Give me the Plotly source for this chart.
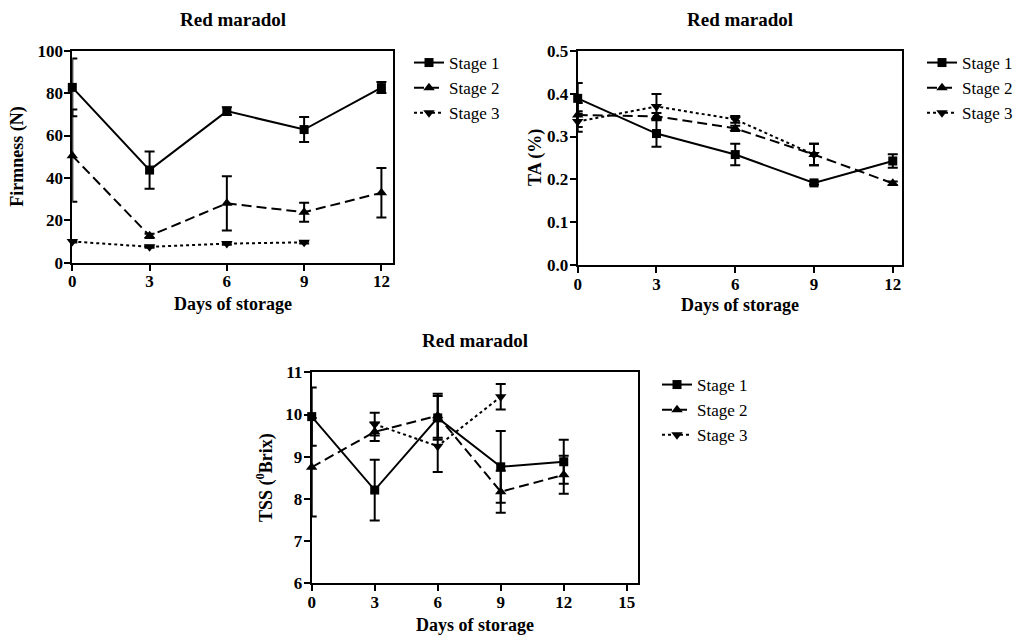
import plotly.graph_objects as go

# ---------------- data ----------------
days = [0, 3, 6, 9, 12]
days_s3 = [0, 3, 6, 9]
days_tss_s3 = [3, 6, 9]

firm_s1 = [82.7, 43.7, 71.5, 62.8, 82.6]
firm_s1_err = [13.6, 8.8, 1.8, 5.9, 2.6]
firm_s2 = [50.5, 12.7, 28.0, 23.8, 33.0]
firm_s2_err = [21.8, 1.0, 12.8, 4.5, 11.7]
firm_s3 = [10.0, 7.5, 9.0, 9.6]
firm_s3_err = [0.5, 0.5, 0.5, 0.5]

ta_s1 = [0.389, 0.307, 0.258, 0.192, 0.243]
ta_s1_err = [0.036, 0.031, 0.025, 0.004, 0.016]
ta_s2 = [0.350, 0.347, 0.319, 0.258, 0.191]
ta_s2_err = [0.028, 0.008, 0.006, 0.025, 0.004]
ta_s3 = [0.335, 0.370, 0.340, 0.258]
ta_s3_err = [0.024, 0.029, 0.008, 0.025]

tss_s1 = [9.95, 8.21, 9.92, 8.76, 8.88]
tss_s1_err = [0.69, 0.72, 0.52, 0.85, 0.52]
tss_s2 = [8.75, 9.59, 9.97, 8.17, 8.57]
tss_s2_err = [1.17, 0.22, 0.52, 0.50, 0.45]
tss_s3 = [9.77, 9.25, 10.42]
tss_s3_err = [0.27, 0.61, 0.30]

stage_names = ["Stage 1", "Stage 2", "Stage 3"]
chart_title = "Red maradol"
x_title = "Days of storage"
y_titles = ["Firmness (N)", "TA (%)", "TSS (<sup>0</sup>Brix)"]

# ---------------- helpers ----------------
W, H = 1024, 636
FONT = "Liberation Serif"


def fx(p):
    return p / W


def fy(p):
    return 1 - p / H


styles = [
    dict(dash="solid", symbol="square", size=9),
    dict(dash="10px,5px", symbol="triangle-up", size=10),
    dict(dash="3px,3px", symbol="triangle-down", size=10),
]

fig = go.Figure()


def add_series(xs, ys, errs, idx, xa, ya, legend):
    st = styles[idx]
    fig.add_trace(go.Scatter(
        x=xs, y=ys, mode="lines+markers", name=stage_names[idx],
        xaxis=xa, yaxis=ya, legend=legend, cliponaxis=False,
        line=dict(color="black", width=2, dash=st["dash"]),
        marker=dict(color="black", symbol=st["symbol"], size=st["size"]),
        error_y=dict(type="data", array=errs, visible=True, color="black",
                     thickness=2, width=5),
    ))


add_series(days, firm_s1, firm_s1_err, 0, "x", "y", "legend")
add_series(days, firm_s2, firm_s2_err, 1, "x", "y", "legend")
add_series(days_s3, firm_s3, firm_s3_err, 2, "x", "y", "legend")

add_series(days, ta_s1, ta_s1_err, 0, "x2", "y2", "legend2")
add_series(days, ta_s2, ta_s2_err, 1, "x2", "y2", "legend2")
add_series(days_s3, ta_s3, ta_s3_err, 2, "x2", "y2", "legend2")

add_series(days, tss_s1, tss_s1_err, 0, "x3", "y3", "legend3")
add_series(days, tss_s2, tss_s2_err, 1, "x3", "y3", "legend3")
add_series(days_tss_s3, tss_s3, tss_s3_err, 2, "x3", "y3", "legend3")

axis_common = dict(
    showgrid=False, zeroline=False, showline=True, linecolor="black",
    linewidth=2, mirror=True, ticks="outside", ticklen=6, tickwidth=2,
    tickcolor="black", automargin=False,
    tickfont=dict(family=FONT, size=17, color="black", weight="bold"),
)
xaxis_common = dict(ticklabelstandoff=-4, **axis_common)
yaxis_common = dict(ticklabelstandoff=-2, **axis_common)

legend_common = dict(
    font=dict(family=FONT, size=17, color="black"),
    bgcolor="rgba(0,0,0,0)", borderwidth=0, xanchor="left", yanchor="top",
    itemclick=False, itemdoubleclick=False,
)

fig.update_layout(
    width=W, height=H,
    margin=dict(l=0, r=0, t=0, b=0, autoexpand=False),
    paper_bgcolor="white", plot_bgcolor="white",
    font=dict(family=FONT, color="black"),
    xaxis=dict(domain=[fx(72.3), fx(393)], range=[0, 12.45],
               tickvals=[0, 3, 6, 9, 12], anchor="y", **xaxis_common),
    yaxis=dict(domain=[fy(262.7), fy(50.7)], range=[0, 100],
               tickvals=[0, 20, 40, 60, 80, 100], anchor="x", **yaxis_common),
    xaxis2=dict(domain=[fx(577.7), fx(901.7)], range=[0, 12.34],
                tickvals=[0, 3, 6, 9, 12], anchor="y2", **xaxis_common),
    yaxis2=dict(domain=[fy(265.3), fy(50.7)], range=[0, 0.5],
                tickvals=[0, 0.1, 0.2, 0.3, 0.4, 0.5], tickformat=".1f",
                anchor="x2", **yaxis_common),
    xaxis3=dict(domain=[fx(311.7), fx(638.3)], range=[0, 15.55],
                tickvals=[0, 3, 6, 9, 12, 15], anchor="y3", **xaxis_common),
    yaxis3=dict(domain=[fy(583.3), fy(372.3)], range=[6, 11],
                tickvals=[6, 7, 8, 9, 10, 11], anchor="x3", **yaxis_common),
    legend=dict(x=fx(409), y=fy(45), **legend_common),
    legend2=dict(x=fx(922), y=fy(45), **legend_common),
    legend3=dict(x=fx(657), y=fy(367), **legend_common),
    showlegend=True,
)

ann = []


def text(x, y, s, size, bold=True, angle=0):
    ann.append(dict(
        x=fx(x), y=fy(y), xref="paper", yref="paper", text=s, showarrow=False,
        textangle=angle, xanchor="center", yanchor="middle",
        font=dict(family=FONT, size=size, color="black",
                  weight="bold" if bold else "normal"),
    ))


text(232.5, 20, chart_title, 19)
text(739.7, 20, chart_title, 19)
text(475, 340, chart_title, 19)

text(232.5, 304, x_title, 18)
text(739.7, 305, x_title, 18)
text(475, 625, x_title, 18)

text(18, 156.7, y_titles[0], 18, angle=-90)
text(535, 158, y_titles[1], 18, angle=-90)
text(265, 478, y_titles[2], 18, angle=-90)

fig.update_layout(annotations=ann)

fig.write_html(
    "out.html",
    config={"displayModeBar": False},
    post_script="document.body.style.margin='0px';"
                "document.body.style.overflow='hidden';",
)
